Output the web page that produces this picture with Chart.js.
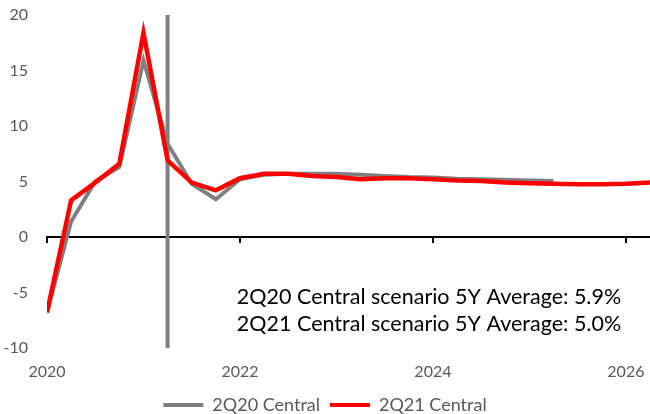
<!DOCTYPE html>
<html>
<head>
<meta charset="utf-8">
<script src="https://cdn.jsdelivr.net/npm/chart.js@4"></script>
<style>
  body { margin: 0; background: #fff; }
</style>
</head>
<body>
<canvas id="myChart" width="650" height="414"></canvas>
<script>

let quarters = ["2020Q1","2020Q2","2020Q3","2020Q4","2021Q1","2021Q2","2021Q3","2021Q4",
  "2022Q1","2022Q2","2022Q3","2022Q4","2023Q1","2023Q2","2023Q3","2023Q4",
  "2024Q1","2024Q2","2024Q3","2024Q4","2025Q1","2025Q2","2025Q3","2025Q4",
  "2026Q1","2026Q2"];
let central2Q20 = [-6.8, 1.4, 5.0, 6.3, 15.9, 8.4, 4.8, 3.4, 5.2, 5.6, 5.7, 5.7, 5.7, 5.6, 5.5, 5.4, 5.35, 5.25, 5.2, 5.15, 5.1, 5.05];
let central2Q21 = [-6.8, 3.3, 4.9, 6.6, 18.4, 6.9, 4.9, 4.2, 5.3, 5.7, 5.7, 5.5, 5.4, 5.2, 5.3, 5.3, 5.2, 5.1, 5.05, 4.9, 4.85, 4.8, 4.75, 4.75, 4.8, 4.9];
let markerQuarter = "2021Q2";
let yearTicks = [2020, 2022, 2024, 2026];
let notes = ["2Q20 Central scenario 5Y Average: 5.9%", "2Q21 Central scenario 5Y Average: 5.0%"];

const font = "Lato, 'Liberation Sans', sans-serif";

function qx(q) {
  return Number(q.slice(0, 4)) + (Number(q.slice(5)) - 1) / 4;
}
function points(values) {
  return values.map((v, i) => ({ x: qx(quarters[i]), y: v }));
}

const notesPlugin = {
  id: 'notes',
  afterDraw(chart) {
    const ctx = chart.ctx;
    ctx.save();
    ctx.fillStyle = '#000';
    ctx.font = "21.5px " + font;
    ctx.textAlign = 'center';
    ctx.textBaseline = 'middle';
    ctx.fillText(notes[0], 429, 297);
    ctx.fillText(notes[1], 429, 324);
    ctx.restore();
  }
};

let ctx = document.getElementById("myChart").getContext('2d');

let chart = new Chart(ctx, {
  type: 'line',
  data: {
    datasets: [{
      label: '2Q20 Central',
      data: points(central2Q20),
      borderColor: '#808080',
      backgroundColor: '#808080',
      borderWidth: 4,
      pointRadius: 0,
      order: 1
    }, {
      label: '2Q21 Central',
      data: points(central2Q21),
      borderColor: '#ff0000',
      backgroundColor: '#ff0000',
      borderWidth: 4.5,
      pointRadius: 0,
      order: 0
    }, {
      label: 'marker',
      data: [{ x: qx(markerQuarter), y: -10 }, { x: qx(markerQuarter), y: 20 }],
      borderColor: '#808080',
      borderWidth: 4,
      pointRadius: 0,
      order: 2
    }]
  },
  options: {
    responsive: false,
    animation: false,
    layout: { padding: { top: 15, right: 0, left: 0, bottom: -10 } },
    plugins: {
      tooltip: { enabled: false },
      legend: {
        position: 'bottom',
        labels: {
          filter: item => item.text !== 'marker',
          sort: (a, b) => a.datasetIndex - b.datasetIndex,
          generateLabels: c => Chart.defaults.plugins.legend.labels.generateLabels(c)
            .map(l => Object.assign(l, { lineWidth: 0 })),
          boxWidth: 40,
          boxHeight: 4,
          padding: 10,
          color: '#595959',
          font: { family: font, size: 18 }
        }
      }
    },
    scales: {
      x: {
        type: 'linear',
        min: 2020,
        max: 2026.25,
        afterBuildTicks: s => { s.ticks = yearTicks.map(v => ({ value: v })); },
        afterFit: s => { s.height = 38; },
        ticks: {
          callback: v => String(v),
          color: '#595959',
          font: { family: font, size: 16 },
          padding: 0,
          maxRotation: 0
        },
        grid: { display: false, drawTicks: true, tickLength: 14 },
        border: { display: false }
      },
      x0: {
        type: 'linear',
        axis: 'x',
        position: { y: 0 },
        min: 2020,
        max: 2026.25,
        afterBuildTicks: s => { s.ticks = yearTicks.map(v => ({ value: v })); },
        ticks: { display: false, padding: 0 },
        grid: { drawOnChartArea: false, drawTicks: true, tickLength: 5, color: '#000', lineWidth: 2 },
        border: { display: true, color: '#000', width: 2 }
      },
      y: {
        min: -10,
        max: 20,
        afterFit: s => { s.width = 47; },
        ticks: {
          stepSize: 5,
          color: '#595959',
          font: { family: font, size: 16 },
          padding: 0
        },
        grid: { display: false, drawTicks: true, tickLength: 19 },
        border: { display: false }
      }
    }
  },
  plugins: [notesPlugin]
});
</script>
</body>
</html>
